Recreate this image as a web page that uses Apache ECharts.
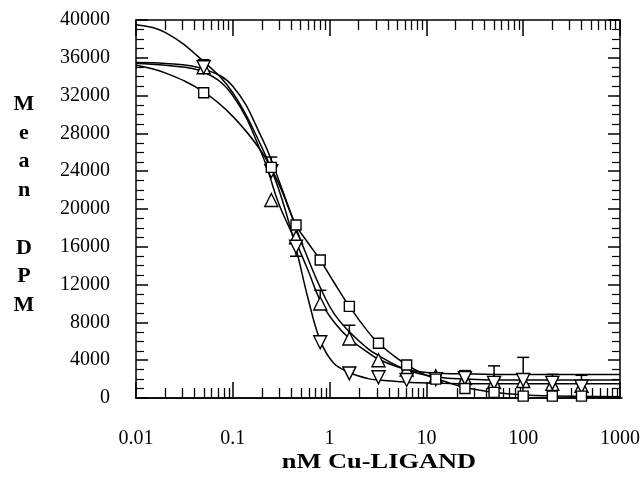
<!DOCTYPE html>
<html><head><meta charset="utf-8">
<script src="https://cdn.jsdelivr.net/npm/echarts@6/dist/echarts.min.js"></script>
<style>html,body{margin:0;padding:0;background:#fff}#c{width:643px;height:481px}</style>
</head><body><div id="c"></div>
<script>
// ---- data ----
const conc = [0.05, 0.25, 0.45, 0.8, 1.6, 3.2, 6.25, 12.5, 25, 50, 100, 200, 400];
const squareVals = [32300, 24400, 18300, 14600, 9700, 5800, 3500, 2000, 1000, 600, 200, 200, 200];
const upVals     = [35000, 20950, 17000, 10000, 6300, 4000, 3000, 2300, 2100, 1700, 1800, 1500, 1300];
const downVals   = [35000, 24000, 16000, 5900, 2600, 2200, 1900, 2000, 2100, 1600, 1900, 1600, 1200];

const errConc = [0.05, 0.25, 0.45, 0.8, 1.6, 25, 50, 100, 200, 400];
const errFrom = [35000, 24000, 16000, 10000, 6300, 2100, 1600, 1900, 1600, 1200];
const errTo   = [35800, 25500, 15000, 11400, 7700, 2900, 3400, 4300, 2500, 2400];

// fitted curves
const curveX = [0.01, 0.02, 0.05, 0.1, 0.2, 0.3, 0.45, 0.6, 0.8, 1.1, 1.6, 2.5, 3.2, 5, 7, 10, 15, 25, 50, 100, 200, 1000];
const curveS = [35200, 34400, 32400, 29800, 26000, 22600, 18300, 16400, 14600, 12300, 9700, 7000, 5800, 4200, 3200, 2400, 1800, 1100, 600, 330, 220, 120];
const curveU = [35400, 35200, 34500, 32000, 25800, 20500, 16500, 13500, 10300, 8100, 6300, 4800, 4100, 3300, 2900, 2700, 2600, 2550, 2500, 2500, 2500, 2500];
const curveX4 = [35500, 35400, 34800, 33000, 27500, 23000, 18000, 14700, 11700, 9000, 7000, 5200, 4500, 3400, 2800, 2400, 2150, 2000, 1900, 1900, 1900, 1900];
const curveD = [39500, 38700, 35600, 32300, 26500, 22000, 15800, 10500, 6100, 3700, 2700, 2050, 1900, 1750, 1650, 1600, 1550, 1500, 1500, 1500, 1500, 1500];

const xTickLabels = [0.01, 0.1, 1, 10, 100, 1000];
const yTitle = ['M','e','a','n','','D','P','M'];
const xTitle = 'nM Cu-LIGAND';
const Y_MAX = 40000;
const TOP_TICK_FROM = 38950; // lower end of the top-edge minor ticks (about 10 px)

// minor tick positions of the log axis (2..9 in each decade)
const minorX = [];
[0.01, 0.1, 1, 10, 100].forEach(d => { for (let k = 2; k <= 9; k++) minorX.push(+(d * k).toPrecision(3)); });

const FONT = '"Liberation Serif", "DejaVu Serif", serif';
const zip = (xs, ys) => xs.map((x, i) => [x, ys[i]]);

const lineOn = {show: true, onZero: false, lineStyle: {color: '#000', width: 1.5}};
const baseX = {type: 'log', logBase: 10, min: 0.01, max: 1000, splitLine: {show: false}};
const G = {left: 136, right: 21, top: 20, bottom: 83};

const chart = echarts.init(document.getElementById('c'), null, {renderer: 'canvas'});
const curveStyle = {color: '#000', width: 1.5};
const markStyle = {color: '#fff', borderColor: '#000', borderWidth: 1.4, opacity: 1};

chart.setOption({
  animation: false,
  backgroundColor: '#fff',
  grid: [Object.assign({}, G), Object.assign({}, G)],
  xAxis: [
    Object.assign({}, baseX, {gridIndex: 0, position: 'bottom', axisLine: lineOn,
      axisTick: {show: true, inside: true, length: 16, lineStyle: {color: '#000', width: 1.5}, customValues: xTickLabels},
      axisLabel: {show: true, margin: 31, color: '#000', fontFamily: FONT, fontSize: 20, customValues: xTickLabels,
        formatter: v => String(v)}}),
    Object.assign({}, baseX, {gridIndex: 0, position: 'top', axisLine: lineOn,
      axisTick: {show: true, inside: true, length: 16, lineStyle: {color: '#000', width: 1.5}, customValues: xTickLabels},
      axisLabel: {show: false}}),
    Object.assign({}, baseX, {gridIndex: 1, position: 'bottom', axisLine: lineOn,
      axisTick: {show: true, inside: true, length: 10, lineStyle: {color: '#000', width: 1.3}, customValues: minorX},
      axisLabel: {show: false}})
  ],
  yAxis: [
    {gridIndex: 0, type: 'value', min: 0, max: Y_MAX, interval: 4000, position: 'left', splitLine: {show: false},
      axisLine: lineOn,
      axisTick: {show: true, inside: true, length: 12, lineStyle: {color: '#000', width: 1.5}},
      minorTick: {show: true, splitNumber: 4, length: 8, lineStyle: {color: '#000', width: 1.2}},
      axisLabel: {color: '#000', fontFamily: FONT, fontSize: 20, margin: 26, formatter: v => String(v)}},
    {gridIndex: 0, type: 'value', min: 0, max: Y_MAX, interval: 4000, position: 'right', splitLine: {show: false},
      axisLine: lineOn,
      axisTick: {show: true, inside: true, length: 12, lineStyle: {color: '#000', width: 1.5}},
      minorTick: {show: true, splitNumber: 4, length: 8, lineStyle: {color: '#000', width: 1.2}},
      axisLabel: {show: false}},
    {gridIndex: 1, type: 'value', min: 0, max: Y_MAX, show: false}
  ],
  graphic: [
    {type: 'text', x: 24, y: 90, style: {text: yTitle.join('\n'), fontFamily: FONT, fontSize: 22, fontWeight: 'bold',
      lineHeight: 28.7, fill: '#000', align: 'center', verticalAlign: 'top'}},
    {type: 'text', x: 379, y: 462, scaleX: 1.2, style: {text: xTitle, fontFamily: FONT, fontSize: 22, fontWeight: 'bold',
      fill: '#000', align: 'center', verticalAlign: 'middle'}}
  ],
  series: [
    {type: 'line', data: zip(curveX, curveS), smooth: 0.4, showSymbol: false, lineStyle: curveStyle, z: 2,
      // minor ticks on the top frame edge, placed through the log axis
      markLine: {silent: true, symbol: 'none', label: {show: false}, animation: false,
        lineStyle: {color: '#000', width: 1.3, type: 'solid'},
        data: minorX.map(x => [{coord: [x, TOP_TICK_FROM]}, {coord: [x, Y_MAX]}])}},
    {type: 'line', data: zip(curveX, curveU), smooth: 0.4, showSymbol: false, lineStyle: curveStyle, z: 2},
    {type: 'line', data: zip(curveX, curveX4), smooth: 0.4, showSymbol: false, lineStyle: curveStyle, z: 2},
    {type: 'line', data: zip(curveX, curveD), smooth: 0.4, showSymbol: false, lineStyle: curveStyle, z: 2},
    {type: 'custom', z: 3, data: errConc.map((x, i) => [x, errFrom[i], errTo[i]]),
      renderItem: (params, api) => {
        const a = api.coord([api.value(0), api.value(1)]);
        const b = api.coord([api.value(0), api.value(2)]);
        const st = {stroke: '#000', lineWidth: 1.5};
        return {type: 'group', children: [
          {type: 'line', shape: {x1: a[0], y1: a[1], x2: b[0], y2: b[1]}, style: st},
          {type: 'line', shape: {x1: b[0] - 6, y1: b[1], x2: b[0] + 6, y2: b[1]}, style: st}
        ]};
      }},
    {type: 'scatter', data: zip(conc, upVals), symbol: 'triangle', symbolSize: 13, itemStyle: markStyle, z: 4},
    {type: 'scatter', data: zip(conc, downVals), symbol: 'triangle', symbolRotate: 180, symbolSize: 13, itemStyle: markStyle, z: 5},
    {type: 'scatter', data: zip(conc, squareVals), symbol: 'rect', symbolSize: 10, itemStyle: markStyle, z: 6}
  ]
});
</script></body></html>
